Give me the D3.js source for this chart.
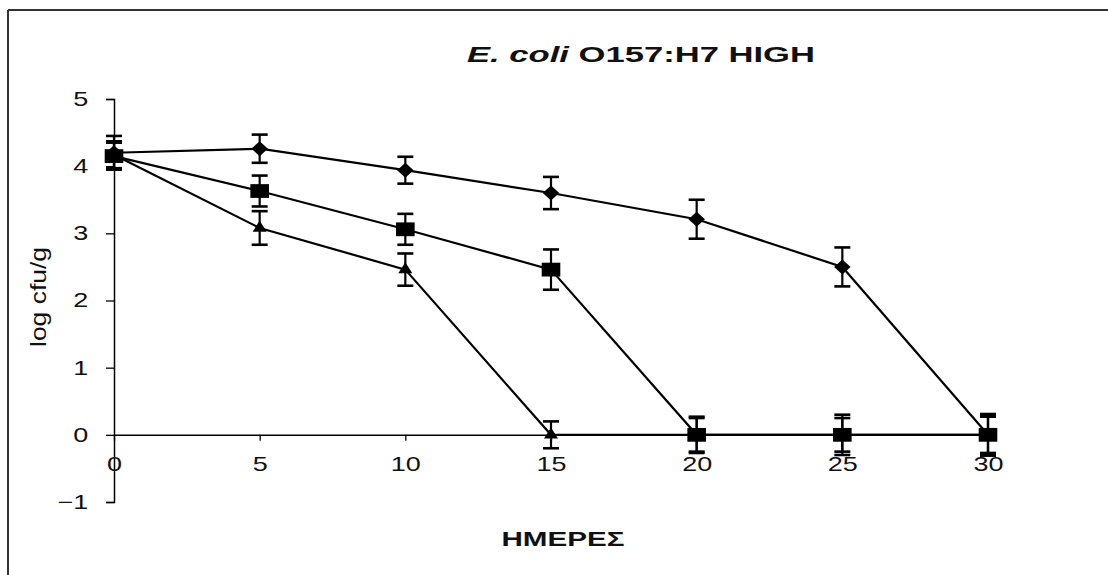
<!DOCTYPE html>
<html>
<head>
<meta charset="utf-8">
<script src="https://cdn.jsdelivr.net/npm/d3@7"></script>
<style>
  body { margin: 0; background: #fff; }
  svg { display: block; font-family: "Liberation Sans", Arial, sans-serif; }
</style>
</head>
<body>
<div id="chart"></div>
<script>
// Days sampled and the three survival curves (log cfu/g) with their error bars.
const days = [0, 5, 10, 15, 20, 25, 30];
const diamondValues = [4.2, 4.26, 3.94, 3.6, 3.21, 2.5, 0];
const diamondErrors = [0.25, 0.21, 0.2, 0.24, 0.29, 0.29, 0.31];
const squareValues = [4.15, 3.63, 3.06, 2.46, 0, 0, 0];
const squareErrors = [0.2, 0.23, 0.23, 0.3, 0.27, 0.3, 0.28];
const triangleValues = [4.17, 3.08, 2.46, 0, 0, 0, 0];
const triangleErrors = [0.2, 0.25, 0.24, 0.2, 0.25, 0.25, 0.27];
const xTicks = [0, 5, 10, 15, 20, 25, 30];
const yTicks = [-1, 0, 1, 2, 3, 4, 5];

const width = 1108;
const height = 575;
const stretch = 1.35; // the picture is wider than it is tall, text included

const svg = d3.select("#chart")
  .append("svg")
  .attr("width", width)
  .attr("height", height);

// Frame: only top and left edges show.
svg.append("line").attr("x1", 8).attr("x2", width).attr("y1", 10).attr("y2", 10)
  .attr("stroke", "#333").attr("stroke-width", 2);
svg.append("line").attr("x1", 8).attr("x2", 8).attr("y1", 10).attr("y2", height)
  .attr("stroke", "#333").attr("stroke-width", 2);

const x = d3.scaleLinear().domain([0, 30]).range([114, 988]);
const y = d3.scaleLinear().domain([-1, 5]).range([502, 99]);

// Y axis.
const yAxis = svg.append("g")
  .attr("transform", "translate(" + x(0) + ",0)")
  .call(d3.axisLeft(y).tickValues(yTicks).tickSize(8).tickFormat(d => d < 0 ? "\u2212" + Math.abs(d) : d));
yAxis.select(".domain").attr("stroke-width", 1.5);
yAxis.selectAll(".tick line").attr("stroke-width", 1.3);
yAxis.selectAll("text")
  .attr("x", -19)
  .attr("transform", "scale(" + stretch + ",1)")
  .style("font-size", "20px")
  .attr("fill", "#111");

// X axis along zero.
const xAxis = svg.append("g")
  .attr("transform", "translate(0," + y(0) + ")")
  .call(d3.axisBottom(x).tickValues(xTicks).tickSize(6).tickSizeOuter(0));
xAxis.select(".domain").attr("stroke-width", 1.5);
xAxis.selectAll(".tick line").attr("stroke-width", 1.3);
xAxis.selectAll("text")
  .attr("y", 22)
  .attr("transform", "scale(" + stretch + ",1)")
  .style("font-size", "20px")
  .attr("fill", "#111");

// Custom diamond as wide as it is tall.
const diamond = {
  draw(context, size) {
    const r = Math.sqrt(size) / 2;
    context.moveTo(0, -r);
    context.lineTo(r, 0);
    context.lineTo(0, r);
    context.lineTo(-r, 0);
    context.closePath();
  }
};

const series = [
  { values: triangleValues, errors: triangleErrors, symbol: d3.symbolTriangle, size: 70 },
  { values: squareValues, errors: squareErrors, symbol: d3.symbolSquare, size: 190 },
  { values: diamondValues, errors: diamondErrors, symbol: diamond, size: 225 }
];

const line = d3.line()
  .x((d, i) => x(days[i]))
  .y(d => y(d));

series.forEach(function(s) {
  svg.append("path")
    .datum(s.values)
    .attr("d", line)
    .attr("fill", "none")
    .attr("stroke", "#000")
    .attr("stroke-width", 2.2);
});

series.forEach(function(s) {
  const g = svg.append("g");
  const pts = s.values.map((v, i) => ({ day: days[i], v: v, e: s.errors[i] }));

  // Error bars with caps.
  g.selectAll(".err")
    .data(pts)
    .enter()
    .append("line")
    .attr("x1", d => x(d.day))
    .attr("x2", d => x(d.day))
    .attr("y1", d => y(d.v + d.e))
    .attr("y2", d => y(d.v - d.e))
    .attr("stroke", "#000")
    .attr("stroke-width", 2.2);

  [1, -1].forEach(function(sign) {
    g.selectAll(".cap")
      .data(pts)
      .enter()
      .append("line")
      .attr("x1", d => x(d.day) - 8)
      .attr("x2", d => x(d.day) + 8)
      .attr("y1", d => y(d.v + sign * d.e))
      .attr("y2", d => y(d.v + sign * d.e))
      .attr("stroke", "#000")
      .attr("stroke-width", 2.6);
  });

  // Markers.
  g.selectAll(".mark")
    .data(pts)
    .enter()
    .append("path")
    .attr("d", d3.symbol().type(s.symbol).size(s.size))
    .attr("transform", d => "translate(" + x(d.day) + "," + y(d.v) + ") scale(" + (s.symbol === d3.symbolSquare ? stretch : 1.1) + ",1)")
    .attr("fill", "#000");
});

// Title with italic species name.
const title = svg.append("text")
  .attr("x", 641)
  .attr("y", 62)
  .attr("text-anchor", "middle")
  .attr("textLength", 348)
  .attr("lengthAdjust", "spacingAndGlyphs")
  .style("font-size", "22px")
  .style("font-weight", "bold")
  .attr("fill", "#111");
title.append("tspan").style("font-style", "italic").text("E. coli");
title.append("tspan").text(" O157:H7 HIGH");

// X axis label.
svg.append("text")
  .attr("x", 563)
  .attr("y", 546)
  .attr("text-anchor", "middle")
  .attr("textLength", 123)
  .attr("lengthAdjust", "spacingAndGlyphs")
  .style("font-size", "21px")
  .style("font-weight", "bold")
  .attr("fill", "#111")
  .text("ΗΜΕΡΕΣ");

// Y axis label.
svg.append("text")
  .attr("transform", "translate(46,297) scale(" + stretch + ",1) rotate(-90)")
  .attr("text-anchor", "middle")
  .attr("textLength", 100)
  .attr("lengthAdjust", "spacingAndGlyphs")
  .style("font-size", "17px")
  .attr("fill", "#111")
  .text("log cfu/g");
</script>
</body>
</html>
